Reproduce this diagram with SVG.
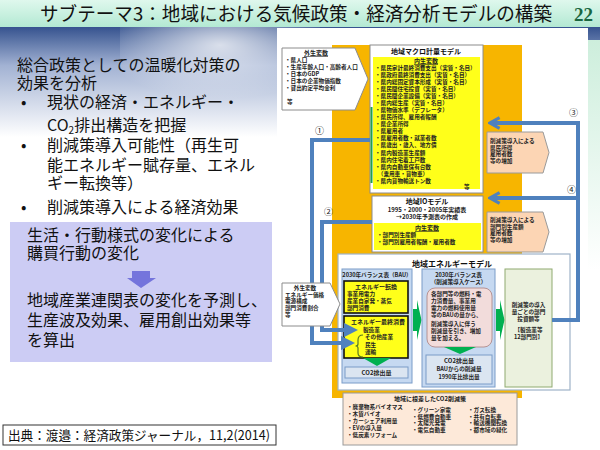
<svg xmlns="http://www.w3.org/2000/svg" width="600" height="450" viewBox="0 0 600 450">
<style>
.jp{font-family:"Noto Sans CJK JP","Noto Sans",sans-serif;fill:#111}
.big{font-size:16px}
.tn{font-size:5.6px;font-weight:bold;fill:#222}
.tm{font-size:6px;font-weight:bold;fill:#222}
.hd{font-size:7px;font-weight:bold;fill:#111}
.mid{text-anchor:middle}
.box{fill:#fff;stroke:#8c8c8c;stroke-width:1}
.yel{fill:#ffff1a}
.yelb{fill:#ffff1a;stroke:#111;stroke-width:1.6}
.lb{fill:#c6d9f1;stroke:#7a9cc8;stroke-width:1}
.co2{fill:#dbe5f1;stroke:#7a9cc8;stroke-width:1}
.peach{fill:#fcd5b4;stroke:#9a9a9a;stroke-width:1}
.gr{fill:#00b050}
.conn{fill:none;stroke:#4f81bd;stroke-width:4;stroke-linejoin:miter}
.num{font-family:"Noto Sans CJK JP","DejaVu Sans",sans-serif;font-size:9px;fill:#222}
</style>
<defs>
<linearGradient id="gTitle" x1="0" y1="0" x2="0" y2="1">
<stop offset="0" stop-color="#dff8ed"/><stop offset="1" stop-color="#b3e9d3"/>
</linearGradient>
<linearGradient id="gSky" x1="0" y1="0" x2="0" y2="1">
<stop offset="0" stop-color="#36538f"/><stop offset="0.35" stop-color="#a2b2d3"/><stop offset="1" stop-color="#ffffff"/>
</linearGradient>
<radialGradient id="gGlow" cx="0.5" cy="0.2" r="0.6">
<stop offset="0" stop-color="#ffffff" stop-opacity="0.75"/><stop offset="1" stop-color="#ffffff" stop-opacity="0"/>
</radialGradient>
<linearGradient id="gGreen" x1="0" y1="0" x2="0" y2="1">
<stop offset="0" stop-color="#cdeedc"/><stop offset="1" stop-color="#ffffff"/>
</linearGradient>
<marker id="ah" viewBox="0 0 10 10" refX="5" refY="5" markerWidth="3.6" markerHeight="3.6" orient="auto">
<path d="M0,0 L10,5 L0,10 z" fill="#4f81bd"/>
</marker>
<marker id="ac" viewBox="0 0 12 12" refX="10" refY="6" markerWidth="3.6" markerHeight="3.6" orient="auto">
<path d="M2,1.5 L10,6 L2,10.5" fill="none" stroke="#4f81bd" stroke-width="2.6"/>
</marker>
</defs>

<!-- background -->
<rect x="0" y="0" width="600" height="450" fill="#ffffff"/>
<rect x="0" y="27" width="600" height="110" fill="url(#gSky)"/>
<rect x="120" y="27" width="200" height="90" fill="url(#gGlow)"/>
<rect x="586" y="40" width="14" height="230" fill="url(#gGreen)"/>

<!-- title -->
<g id="title">
<rect x="0" y="0" width="600" height="27" fill="url(#gTitle)"/>
<text class="jp" x="40" y="20.5" font-size="19" textLength="512" lengthAdjust="spacingAndGlyphs">サブテーマ3：地域における気候政策・経済分析モデルの構築</text>
<text x="574" y="20.5" font-family="Liberation Serif, serif" font-weight="bold" font-size="19" fill="#1a6640">22</text>
</g>

<!-- left text -->
<g id="summary">
<text class="jp big" x="17" y="71">総合政策としての温暖化対策の</text>
<text class="jp big" x="17" y="89">効果を分析</text>
<text class="jp big" x="21" y="108">•</text>
<text class="jp big" x="47" y="108">現状の経済・エネルギー・</text>
<text class="jp big" x="47" y="131">CO<tspan font-size="10" dy="3">2</tspan><tspan dy="-3">排出構造を把握</tspan></text>
<text class="jp big" x="21" y="151">•</text>
<text class="jp big" x="47" y="151">削減策導入可能性（再生可</text>
<text class="jp big" x="47" y="171">能エネルギー賦存量、エネル</text>
<text class="jp big" x="47" y="189">ギー転換等）</text>
<text class="jp big" x="21" y="213">•</text>
<text class="jp big" x="47" y="213">削減策導入による経済効果</text>
</g>

<g id="purple-box">
<rect x="10" y="222" width="262" height="140" fill="#ccccf4"/>
<text class="jp big" x="27" y="241">生活・行動様式の変化による</text>
<text class="jp big" x="27" y="259">購買行動の変化</text>
<polygon points="132,271 150,271 150,278 156,278 141,288 127,278 132,278" fill="#7474dc"/>
<text class="jp big" x="27" y="306">地域産業連関表の変化を予測し、</text>
<text class="jp big" x="27" y="326">生産波及効果、雇用創出効果等</text>
<text class="jp big" x="27" y="346">を算出</text>
</g>

<g id="citation">
<rect x="3" y="425" width="273" height="20" fill="#fff" stroke="#333" stroke-width="1"/>
<text class="jp" x="8" y="440" font-size="13" textLength="262" lengthAdjust="spacingAndGlyphs">出典：渡邉：経済政策ジャーナル，11,2(2014)</text>
</g>

<!-- model figure -->
<rect x="277" y="28" width="311" height="420" fill="#ffffff"/>
<rect id="orange-band" x="332" y="45" width="190" height="353" fill="#f7b500"/>

<g id="macro-model">
<rect class="box" x="370" y="45" width="113" height="148"/>
<text class="jp hd mid" x="426" y="54">地域マクロ計量モデル</text>
<rect class="yel" x="373" y="57" width="107" height="132"/>
<line x1="371.5" y1="107" x2="371.5" y2="183" stroke="#22a050" stroke-width="2"/>
<text class="jp tm mid" x="426" y="63" text-decoration="underline">内生変数</text>
<text class="jp tn" x="375" y="70">・県民家計最終消費支出（実質・名目）</text>
<text class="jp tn" x="375" y="77">・県政府最終消費支出（実質・名目）</text>
<text class="jp tn" x="375" y="84">・県内総固定資本形成（実質・名目）</text>
<text class="jp tn" x="375" y="91">・県民間住宅投資（実質・名目）</text>
<text class="jp tn" x="375" y="98">・県民間企業設備（実質・名目）</text>
<text class="jp tn" x="375" y="105">・県内総生産（実質・名目）</text>
<text class="jp tn" x="375" y="112">・県物価水準（デフレータ）</text>
<text class="jp tn" x="375" y="119">・県民所得、雇用者報酬</text>
<text class="jp tn" x="375" y="126">・県企業所得</text>
<text class="jp tn" x="375" y="133">・県雇用者</text>
<text class="jp tn" x="375" y="140">・県雇用者数・就業者数</text>
<text class="jp tn" x="375" y="147">・県歳出・歳入、地方債</text>
<text class="jp tn" x="375" y="155">・県内製造業生産額</text>
<text class="jp tn" x="375" y="162">・県内住宅着工戸数</text>
<text class="jp tn" x="375" y="169">・県内自動車保有台数</text>
<text class="jp tn" x="375" y="176">　（乗用車・貨物車）</text>
<text class="jp tn" x="375" y="183">・県内貨物輸送トン数</text>
<text class="jp tn" x="464" y="189">等</text>
</g>

<g id="io-model">
<rect class="box" x="372" y="196" width="111" height="56"/>
<text class="jp hd mid" x="427" y="204">地域IOモデル</text>
<text class="jp tm mid" x="427" y="212">1995・2000・2005年実績表</text>
<text class="jp tm mid" x="427" y="219">→2030年予測表の作成</text>
<rect class="yel" x="374" y="223" width="107" height="27"/>
<text class="jp tm mid" x="427" y="230" text-decoration="underline">内生変数</text>
<text class="jp tn" x="377" y="237">・部門別生産額</text>
<text class="jp tn" x="377" y="244">・部門別雇用者報酬・雇用者数</text>
</g>

<g id="impact-income">
<path class="peach" d="M487,132 H543 L549,152.5 L543,173 H487 Z"/>
<text class="jp tn" x="490" y="143">削減策導入による</text>
<text class="jp tn" x="490" y="149.5">県民所得</text>
<text class="jp tn" x="490" y="156">雇用者数</text>
<text class="jp tn" x="490" y="162.5">等の増加</text>
</g>

<g id="impact-production">
<path class="peach" d="M487,212 H543 L549,232 L543,252 H487 Z"/>
<text class="jp tn" x="490" y="222">削減策導入による</text>
<text class="jp tn" x="490" y="228.5">部門別生産額</text>
<text class="jp tn" x="490" y="235">雇用者数</text>
<text class="jp tn" x="490" y="241.5">等の増加</text>
</g>

<g id="energy-model">
<rect x="338" y="254" width="232" height="136" fill="#fff" stroke="#9fb3c8" stroke-width="1.2"/>
<text class="jp mid" x="452" y="267" font-size="8" font-weight="bold">地域エネルギーモデル</text>

<g id="bau-table">
<rect class="lb" x="342" y="269" width="70" height="114"/>
<text class="jp tn mid" x="377" y="277">2030年バランス表（BAU）</text>
<rect class="yelb" x="344" y="281" width="64" height="32"/>
<text class="jp tm mid" x="376" y="289">エネルギー転換</text>
<text class="jp tn" x="347" y="296">事業用電力</text>
<text class="jp tn" x="347" y="303">産業自家発・蒸気</text>
<text class="jp tn" x="347" y="310">部門消費</text>
<rect class="yelb" x="344" y="316" width="64" height="42"/>
<text class="jp tm mid" x="378" y="324">エネルギー最終消費</text>
<text class="jp tn" x="363" y="332">製造業</text>
<text class="jp tn" x="365" y="339">その他産業</text>
<text class="jp tn" x="365" y="347">民生</text>
<text class="jp tn" x="365" y="354">運輸</text>
<path d="M363,335 Q358,335 358,340 L358,344 Q358,346 355.5,346 Q358,346 358,348 L358,353 Q358,357 363,357" fill="none" stroke="#5a7a20" stroke-width="1.2"/>
<polygon class="gr" points="363,358 391,358 377,366"/>
<rect class="co2" x="345" y="367" width="63" height="11"/>
<text class="jp tm mid" x="376.5" y="375">CO2排出量</text>
</g>

<polygon class="gr" points="413,309 417,309 417,300 421.5,320 417,340 417,331 413,331"/>

<g id="policy-table">
<rect class="lb" x="422" y="269" width="73" height="118"/>
<text class="jp tn mid" x="458.5" y="277">2030年バランス表</text>
<text class="jp tn mid" x="458.5" y="284">（削減策導入ケース）</text>
<rect x="427" y="288" width="65" height="59" rx="8" fill="#f2dcdb" stroke="#b08a8a" stroke-width="0.9"/>
<text class="jp tn" x="431" y="296">各部門等の燃料・電</text>
<text class="jp tn" x="431" y="303">力消費量、事業用</text>
<text class="jp tn" x="431" y="310">電力の燃料使用量</text>
<text class="jp tn" x="431" y="317">等のBAUの量から、</text>
<text class="jp tn" x="431" y="326">削減策導入に伴う</text>
<text class="jp tn" x="431" y="333">削減量を引き、増加</text>
<text class="jp tn" x="431" y="340">量を加える。</text>
<polygon class="gr" points="444,347 476,347 460,354"/>
<rect class="co2" x="426" y="355" width="66" height="29"/>
<text class="jp tm mid" x="459" y="363">CO2排出量</text>
<text class="jp tn mid" x="459" y="371">BAUからの削減量</text>
<text class="jp tn mid" x="459" y="379">1990年比排出量</text>
</g>

<polygon class="gr" points="496,309 500,309 500,300 504.5,320 500,340 500,331 496,331"/>

<g id="investment">
<rect x="505" y="269" width="47" height="118" fill="#ebf1de" stroke="#8faa70" stroke-width="1"/>
<text class="jp tn mid" x="528.5" y="307">削減策の導入</text>
<text class="jp tn mid" x="528.5" y="314">量ごとの部門</text>
<text class="jp tn mid" x="528.5" y="321">投資額等</text>
<text class="jp tn mid" x="528.5" y="332">【製造業等</text>
<text class="jp tn mid" x="528.5" y="339">12部門別】</text>
</g>
</g>

<g id="measures">
<rect x="343" y="393" width="174" height="52" fill="#fde9d9" stroke="#9a9a9a" stroke-width="1"/>
<text class="jp tm mid" x="430" y="401">地域に根差したCO2削減策</text>
<text class="jp tn" x="347" y="409">・廃棄物系バイオマス</text>
<text class="jp tn" x="347" y="415.5">・木質バイオ</text>
<text class="jp tn" x="347" y="422.5">・カーシェア利用量</text>
<text class="jp tn" x="347" y="429.5">・EVの導入量</text>
<text class="jp tn" x="347" y="437">・低炭素リフォーム</text>
<text class="jp tn" x="412" y="412">・グリーン家電</text>
<text class="jp tn" x="412" y="418.5">・低燃費自動車</text>
<text class="jp tn" x="412" y="425">・太陽光発電</text>
<text class="jp tn" x="412" y="431.5">・電気自動車</text>
<text class="jp tn" x="468" y="412">・ガス転換</text>
<text class="jp tn" x="468" y="418.5">・共有自転車</text>
<text class="jp tn" x="468" y="425">・輸送機関転換</text>
<text class="jp tn" x="468" y="431.5">・都市域の緑化</text>
</g>

<g id="connectors">
<polyline class="conn" points="370,140 312,140 312,343 348,343" marker-end="url(#ah)"/>
<polyline class="conn" points="372,222 322,222 322,330 351,330" marker-end="url(#ah)"/>
<polyline class="conn" points="552,320 578,320 578,123 490,123" marker-end="url(#ac)"/>
<polyline class="conn" points="578,198 490,198" marker-end="url(#ac)"/>
<text class="num" x="315" y="134">①</text>
<text class="num" x="324" y="215">②</text>
<text class="num" x="569" y="116">③</text>
<text class="num" x="567" y="193">④</text>
</g>

<g id="exogenous-macro">
<path class="box" d="M282,48 H355 L368,79 L355,110 H282 Z"/>
<text class="jp tm mid" x="316" y="55" text-decoration="underline">外生変数</text>
<text class="jp tn" x="285" y="62">・県人口</text>
<text class="jp tn" x="285" y="69">・生産年齢人口・高齢者人口</text>
<text class="jp tn" x="285" y="76">・日本のGDP</text>
<text class="jp tn" x="285" y="83">・日本の企業物価指数</text>
<text class="jp tn" x="285" y="90">・貸出約定平均金利</text>
<text class="jp tn" x="287" y="104">等</text>
</g>

<g id="exogenous-energy">
<path class="box" d="M282,283 H330 L340,304 L330,326 H282 Z"/>
<text class="jp tn mid" x="305" y="290">外生変数</text>
<text class="jp tn" x="285" y="296.5">エネルギー価格</text>
<text class="jp tn" x="285" y="303">電源構成</text>
<text class="jp tn" x="285" y="309.5">部門消費割合</text>
<text class="jp tn" x="285" y="317">等</text>
</g>
</svg>
